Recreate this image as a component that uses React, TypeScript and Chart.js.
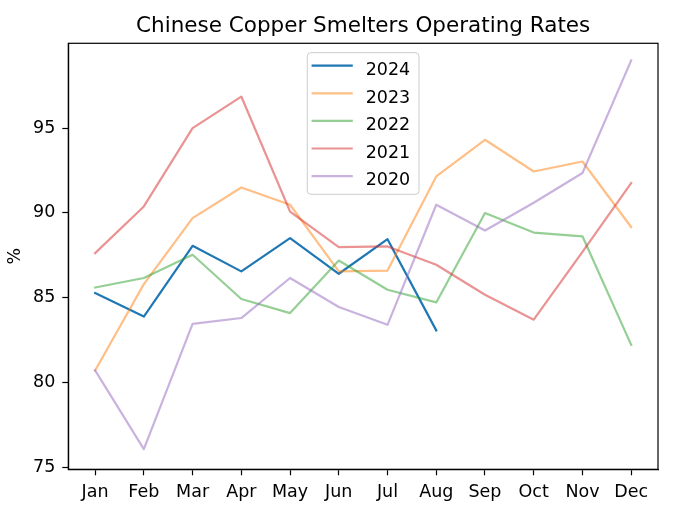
import React, { useEffect, useRef } from 'react';
import { Chart, registerables } from 'chart.js';

Chart.register(...registerables);

const months = ['Jan', 'Feb', 'Mar', 'Apr', 'May', 'Jun', 'Jul', 'Aug', 'Sep', 'Oct', 'Nov', 'Dec'];
const years = ['2024', '2023', '2022', '2021', '2020'];

const rates2024 = [85.27, 83.89, 88.06, 86.55, 88.51, 86.41, 88.45, 83.07];
const rates2023 = [80.71, 85.8, 89.69, 91.5, 90.48, 86.55, 86.6, 92.15, 94.31, 92.44, 93.03, 89.16];
const rates2022 = [85.6, 86.16, 87.53, 84.92, 84.09, 87.19, 85.47, 84.72, 89.99, 88.84, 88.62, 82.22];
const rates2021 = [87.63, 90.38, 95.0, 96.86, 90.08, 87.98, 88.02, 86.94, 85.17, 83.7, 87.7, 91.76];
const rates2020 = [80.71, 76.07, 83.46, 83.8, 86.16, 84.45, 83.4, 90.48, 88.96, 90.6, 92.35, 98.99];

const yTicks = [75, 80, 85, 90, 95];

const chartTitle = 'Chinese Copper Smelters Operating Rates';

const lineColors = [
  '#1f77b4',
  'rgba(255, 127, 14, 0.5)',
  'rgba(44, 160, 44, 0.5)',
  'rgba(214, 39, 40, 0.5)',
  'rgba(148, 103, 189, 0.5)',
];

const FONT = "'DejaVu Sans', sans-serif";

// matplotlib-style title over the axes, frame (all four spines) and legend inside the axes
const framePlugin = {
  id: 'frameAndLegend',
  afterDraw(chart: any) {
    const { ctx, chartArea: a } = chart;
    ctx.save();

    ctx.fillStyle = '#000';
    ctx.font = `21.5px ${FONT}`;
    ctx.textAlign = 'center';
    ctx.textBaseline = 'alphabetic';
    ctx.fillText(chartTitle, (a.left + a.right) / 2, 31.5);

    ctx.strokeStyle = '#000';
    ctx.lineWidth = 1.2;
    ctx.strokeRect(a.left, a.top, a.right - a.left, a.bottom - a.top);

    ctx.font = `17.5px ${FONT}`;
    const textW = Math.max(...years.map((y) => ctx.measureText(y).width));
    const padL = 5.4, handle = 39, gap = 14, padR = 8.8;
    const w = padL + handle + gap + textW + padR;
    const h = 141.6;
    const x0 = (a.left + a.right) / 2 - w / 2;
    const y0 = a.top + 9.4;

    ctx.beginPath();
    ctx.roundRect(x0, y0, w, h, 3.5);
    ctx.fillStyle = 'rgba(255, 255, 255, 0.8)';
    ctx.fill();
    ctx.strokeStyle = '#cccccc';
    ctx.lineWidth = 1;
    ctx.stroke();

    chart.data.datasets.forEach((ds: any, i: number) => {
      const ry = y0 + 13 + i * 27.6;
      ctx.beginPath();
      ctx.strokeStyle = ds.borderColor;
      ctx.lineWidth = 2.2;
      ctx.lineCap = 'square';
      ctx.moveTo(x0 + padL, ry);
      ctx.lineTo(x0 + padL + handle, ry);
      ctx.stroke();
      ctx.fillStyle = '#000';
      ctx.textAlign = 'left';
      ctx.textBaseline = 'alphabetic';
      ctx.fillText(ds.label, x0 + padL + handle + gap, ry + 9.3);
    });
    ctx.restore();
  },
};

const App: React.FC = () => {
  const chartRef = useRef<HTMLCanvasElement>(null);
  const chartInstance = useRef<Chart | null>(null);

  useEffect(() => {
    if (!chartRef.current) return;
    if (chartInstance.current) chartInstance.current.destroy();

    const series = [rates2024, rates2023, rates2022, rates2021, rates2020];

    chartInstance.current = new Chart(chartRef.current, {
      type: 'line',
      data: {
        datasets: years.map((year, i) => ({
          label: year,
          data: series[i].map((v, m) => ({ x: m, y: v })),
          borderColor: lineColors[i],
          backgroundColor: lineColors[i],
          borderWidth: 2.2,
          pointRadius: 0,
          tension: 0,
          borderJoinStyle: 'round' as const,
          borderCapStyle: 'square' as const,
          order: years.length - i,
        })),
      },
      options: {
        responsive: false,
        animation: false,
        layout: { padding: { left: 0, right: 22, top: 43.3, bottom: 0 } },
        plugins: {
          legend: { display: false },
          tooltip: { enabled: false },
          title: { display: false },
        },
        scales: {
          x: {
            type: 'linear',
            min: -0.55,
            max: 11.55,
            afterBuildTicks: (axis: any) => {
              axis.ticks = months.map((_, i) => ({ value: i }));
            },
            afterFit: (scale: any) => {
              scale.height = 40.7;
            },
            ticks: {
              color: '#000',
              font: { family: FONT, size: 17.5 },
              padding: 7,
              maxRotation: 0,
              autoSkip: false,
              callback: (v: any) => months[v as number] ?? '',
            },
            grid: {
              drawOnChartArea: false,
              drawTicks: true,
              tickLength: 6,
              tickColor: '#000',
              tickWidth: 1.2,
            },
            border: { display: true, color: '#000', width: 1.2 },
          },
          y: {
            min: 74.88,
            max: 100.0,
            afterBuildTicks: (axis: any) => {
              axis.ticks = yTicks.map((v) => ({ value: v }));
            },
            afterFit: (scale: any) => {
              scale.width = 68.3;
            },
            ticks: {
              color: '#000',
              font: { family: FONT, size: 17.5 },
              padding: 7,
            },
            grid: {
              drawOnChartArea: false,
              drawTicks: true,
              tickLength: 6,
              tickColor: '#000',
              tickWidth: 1.2,
            },
            border: { display: true, color: '#000', width: 1.2 },
            title: {
              display: true,
              text: '%',
              color: '#000',
              font: { family: FONT, size: 17.5 },
              padding: { top: 4.5, bottom: 0 },
            },
          },
        },
      },
      plugins: [framePlugin],
    });

    return () => {
      if (chartInstance.current) {
        chartInstance.current.destroy();
        chartInstance.current = null;
      }
    };
  }, []);

  return (
    <div style={{ position: 'fixed', left: 0, top: 0, width: 680, height: 510, background: '#fff' }}>
      <canvas ref={chartRef} width={680} height={510} />
    </div>
  );
};

export default App;
